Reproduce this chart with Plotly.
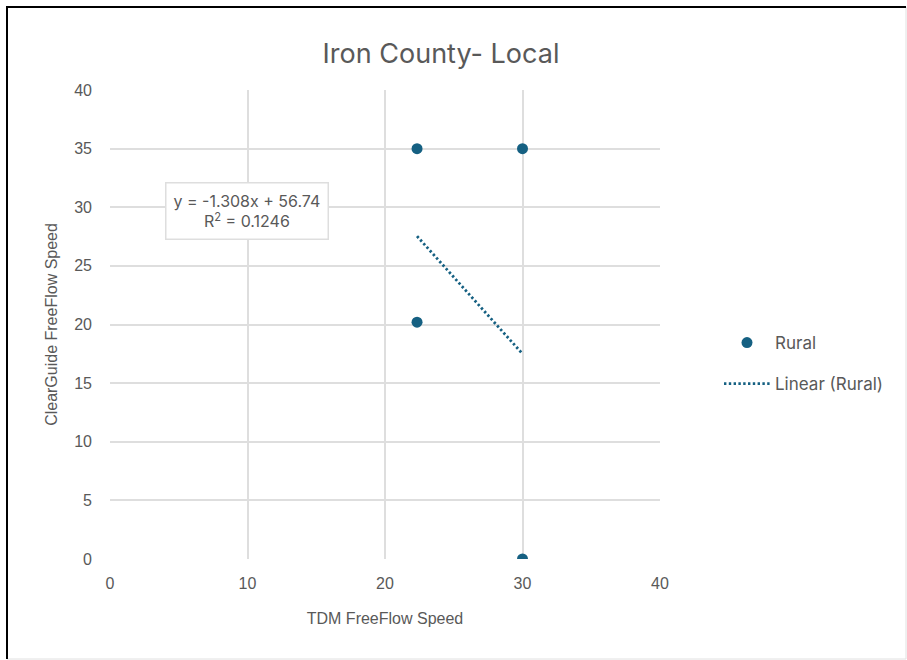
import plotly.graph_objects as go

# Observed free-flow speeds, Iron County local roads (rural)
tdm_speed = [22.33, 30.0, 22.33, 30.0]
clearguide_speed = [35.0, 35.0, 20.2, 0.0]

# Linear trendline reported for the rural series
slope = -1.308
intercept = 56.74
r_squared = 0.1246

y_ticks = [0, 5, 10, 15, 20, 25, 30, 35, 40]
x_ticks = [0, 10, 20, 30, 40]

accent = "#156082"
text_grey = "#595959"
grid_grey = "#dedede"
ui_font = "Inter, Lato, 'Open Sans', sans-serif"
axis_font = "'Liberation Sans', Arial, sans-serif"

trend_x = [min(tdm_speed), max(tdm_speed)]
trend_y = [slope * v + intercept for v in trend_x]

fig = go.Figure()
fig.add_trace(go.Scatter(
    x=tdm_speed, y=clearguide_speed, mode="markers", name="Rural",
    legendgroup="pts", marker=dict(color=accent, size=11),
))
fig.add_trace(go.Scatter(
    x=trend_x, y=trend_y, mode="lines", name="Linear (Rural)",
    legendgroup="fit", line=dict(color=accent, width=2.8, dash="2.4px,2.4px"),
))

fig.add_annotation(
    x=9.96, y=29.64, xref="x", yref="y", showarrow=False,
    text=f"y = {slope}x + {intercept}<br>R<sup>2</sup> = {r_squared}",
    font=dict(size=16, color=text_grey, family=ui_font),
    bgcolor="white", bordercolor=grid_grey, borderwidth=1.5, borderpad=7,
    align="center",
)

L, T, W, H = 110, 90, 550, 469

def px(x):
    return (x - L) / W

def py(y):
    return (T + H - y) / H

# outer frame of the chart area
fig.add_shape(type="rect", xref="paper", yref="paper",
              x0=px(7), x1=px(906), y0=py(659), y1=py(7),
              line=dict(color="#e0e0e0", width=1), layer="below")
fig.add_shape(type="line", xref="paper", yref="paper",
              x0=px(6), x1=px(906), y0=py(7), y1=py(7),
              line=dict(color="black", width=2))
fig.add_shape(type="line", xref="paper", yref="paper",
              x0=px(7), x1=px(7), y0=py(659), y1=py(6),
              line=dict(color="black", width=2))

fig.update_layout(
    width=907, height=660,
    margin=dict(l=L, r=907 - L - W, t=T, b=660 - T - H),
    paper_bgcolor="white", plot_bgcolor="white",
    font=dict(family=ui_font, color=text_grey, size=16),
    title=dict(text="Iron County- Local", xref="container", x=441 / 907,
               xanchor="center", yref="container", y=1 - 54 / 660,
               yanchor="middle",
               font=dict(size=27, color=text_grey, family=ui_font)),
    showlegend=True,
    legend=dict(x=px(719), y=py(325), xanchor="left", yanchor="top",
                font=dict(size=17, color=text_grey, family=ui_font),
                bgcolor="rgba(0,0,0,0)", traceorder="grouped",
                tracegroupgap=16, itemwidth=46),
)
fig.update_xaxes(
    range=[0, 40], tickvals=x_ticks, showgrid=True, gridcolor=grid_grey,
    gridwidth=1.5, zeroline=False, showline=False, ticks="",
    ticklabelstandoff=13,
    tickfont=dict(size=16, color=text_grey, family=axis_font),
    title=dict(text="TDM FreeFlow Speed", standoff=21,
               font=dict(size=16, color=text_grey, family=axis_font)),
)
fig.update_yaxes(
    range=[0, 40], tickvals=y_ticks, showgrid=True, gridcolor=grid_grey,
    gridwidth=1.5, zeroline=False, showline=False, ticks="",
    ticklabelstandoff=17,
    tickfont=dict(size=16, color=text_grey, family=axis_font),
    title=dict(text="ClearGuide FreeFlow Speed", standoff=12,
               font=dict(size=16, color=text_grey, family=axis_font)),
)

fig.write_html("out.html")
